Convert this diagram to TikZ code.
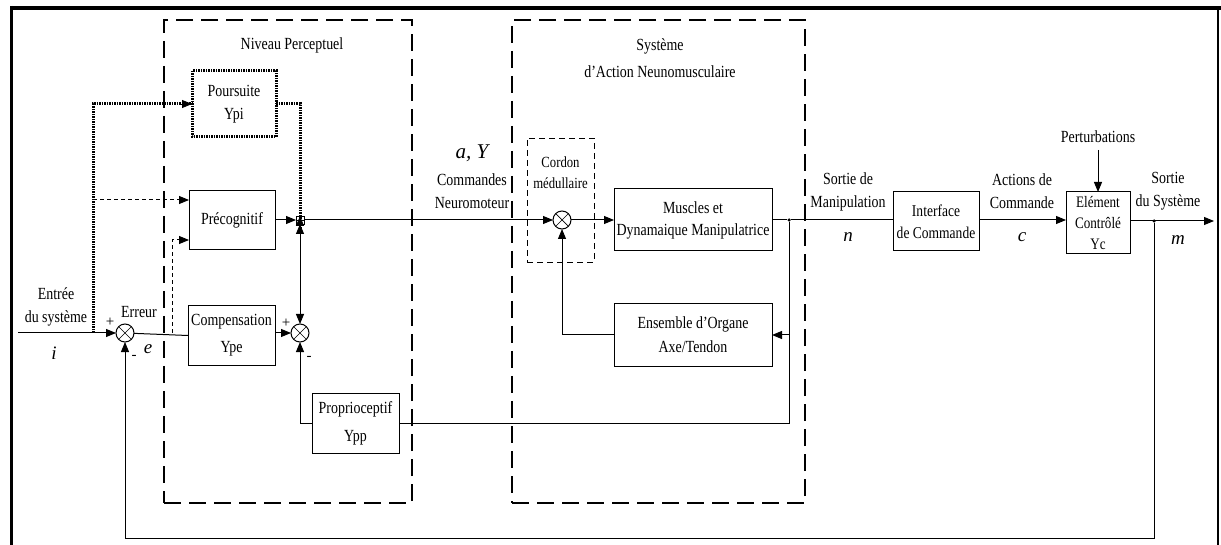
\documentclass[tikz,border=0pt]{standalone}
\usepackage{fontspec}
\setmainfont{Liberation Serif}[FakeStretch=0.82]
\newfontfamily\varfont{Liberation Serif}
\usetikzlibrary{arrows.meta}
\begin{document}
\begin{tikzpicture}[x=1pt,y=-1pt,
  every node/.style={inner sep=0pt, outer sep=0pt},
  blk/.style={draw, line width=1pt, align=center, font=\fontsize{17}{23}\selectfont},
  lbl/.style={align=center, font=\fontsize{17}{23}\selectfont},
  var/.style={font=\varfont\fontsize{19}{19}\selectfont\itshape},
  sgn/.style={font=\varfont\fontsize{15}{15}\selectfont},
  sig/.style={line width=1pt},
  tip/.style={-{Triangle[length=10pt,width=8pt]}},
  arr/.style={sig, tip},
  bigdash/.style={line width=2.6pt, dash pattern=on 17pt off 8pt},
  hatch/.style={line width=3pt, dash pattern=on 1.5pt off 1pt},
  thindash/.style={dash pattern=on 4pt off 3pt},
  sj/.style={draw, circle, line width=1pt, minimum size=18pt},
  dot/.style={circle, fill, minimum size=3.5pt},
]
\useasboundingbox (0,0) rectangle (1221,545);
% frame
\draw[line width=4pt] (10,8) -- (1221,8);
\draw[line width=3.5pt] (11.5,6) -- (11.5,545);
\draw[line width=1.5pt] (1218,8) -- (1218,545);

% big dashed containers
\node[draw, bigdash, minimum width=248pt, minimum height=483pt] (niv) at (288,261.5) {};
\node[lbl] (nivl) at (292,45) {Niveau Perceptuel};
\node[draw, bigdash, minimum width=293pt, minimum height=483pt] (sys) at (658.5,261.5) {};
\node[lbl, font=\fontsize{17}{27}\selectfont] (sysl) at (660,58.5) {Système\\d'Action Neunomusculaire};

% cordon medullaire
\node[draw, line width=0.9pt, dash pattern=on 6pt off 4pt, minimum width=67pt, minimum height=124pt] (cord) at (560.5,200) {};
\node[lbl, font=\fontsize{15.5}{21}\selectfont] (cordl) at (560.5,173) {Cordon\\médullaire};

% blocks
\node[blk, draw=none, minimum width=84pt, minimum height=66pt] (pours) at (234,104) {Poursuite\\Ypi};
\draw[hatch] (pours.north west) rectangle (pours.south east);
\node[blk, minimum width=86pt, minimum height=59pt] (precog) at (232,220) {Précognitif};
\node[blk, font=\fontsize{17}{27}\selectfont, minimum width=87pt, minimum height=59pt] (comp) at (231.5,335.5) {Compensation\\Ype};
\node[blk, font=\fontsize{17}{28}\selectfont, minimum width=87pt, minimum height=60pt] (prop) at (355.5,423) {Proprioceptif\\Ypp};
\node[blk, font=\fontsize{17}{22}\selectfont, minimum width=158pt, minimum height=62pt] (musc) at (693,220) {Muscles et\\Dynamaique Manipulatrice};
\node[blk, font=\fontsize{17}{24}\selectfont, minimum width=158pt, minimum height=62pt] (ens) at (693,335) {Ensemble d'Organe\\Axe/Tendon};
\node[blk, font=\fontsize{16.5}{22}\selectfont, minimum width=86pt, minimum height=59pt] (intf) at (936,221.5) {Interface\\de Commande};
\node[blk, font=\fontsize{16}{21}\selectfont, minimum width=64pt, minimum height=62pt] (elem) at (1098,223) {Elément\\Contrôlé\\Yc};

% summing junctions
\node[sj] (c1) at (125,333) {};
\draw[line width=0.7pt] (c1.north east) -- (c1.south west) (c1.north west) -- (c1.south east);
\node[sj] (c2) at (300,333) {};
\draw[line width=0.7pt] (c2.north east) -- (c2.south west) (c2.north west) -- (c2.south east);
\node[sj] (c3) at (562,220) {};
\draw[line width=0.7pt] (c3.north east) -- (c3.south west) (c3.north west) -- (c3.south east);
\node[draw, line width=0.9pt, minimum size=8pt] (sum) at (300,220) {};
\draw[line width=0.7pt] (sum.north) -- (sum.south) (sum.west) -- (sum.east);

% coordinates
\coordinate (inp) at (18,333);
\coordinate (hj) at (93,333);
\coordinate (hd) at (93,200);
\coordinate (ej) at (172,333);
\node[dot] (o1) at (789,220) {};
\node[dot] (o2) at (1154,221) {};
\coordinate (outp) at (1214,221);
\coordinate (pert) at (1098,150);
\coordinate (fb) at (1154,538);

% connectors
\draw[arr] (inp) -- (c1);
\draw[hatch] (hj) |- (pours.west);
\draw[tip, line width=0.8pt] ([xshift=-12pt]pours.west) -- (pours.west);
\draw[hatch] (pours.east) -| ([yshift=-12pt]sum.north);
\draw[tip, line width=0.8pt] ([yshift=-12pt]sum.north) -- (sum.north);
\draw[arr, thindash] (hd) -- (precog.west |- hd);
\draw[sig] (c1) -- (comp.west);
\draw[arr, thindash] (ej) |- (precog.west |- 0,240);
\draw[arr] (precog.east) -- (sum.west);
\draw[arr] (comp.east |- c2) -- (c2);
\draw[sig, {Triangle[length=10pt,width=8pt]}-{Triangle[length=10pt,width=8pt]}] (sum.south) -- (c2.north);
\draw[arr] (prop.west) -| (c2);
\draw[arr] (sum.east) -- (c3);
\draw[arr] (c3) -- (musc.west);
\draw[sig] (musc.east) -- (o1) -- (intf.west |- o1);
\draw[arr] (o1) |- (ens.east);
\draw[sig] (o1) |- (prop.east);
\draw[arr] (ens.west) -| (c3);
\draw[arr] (intf.east |- o1) -- (elem.west |- o1);
\draw[arr] (pert) -- (elem.north);
\draw[arr] (elem.east |- o2) -- (outp);
\draw[arr] (o2) -- (fb) -| (c1);

% labels
\node[lbl] (entree) at (56,306.5) {Entrée\\du système};
\node[var] (vi) at (54,353) {i};
\node[lbl] (err) at (139,312) {Erreur};
\node[var] (ve) at (148,349) {e};
\node[sgn] (p1) at (110,322) {+};
\node[sgn] (m1) at (134,357) {-};
\node[sgn] (p2) at (286,323) {+};
\node[sgn] (m2) at (309,358) {-};
\node[var, font=\varfont\fontsize{21}{21}\selectfont\itshape] (aY) at (472,153) {a, Y};
\node[lbl] (cmdn) at (472,191.5) {Commandes\\Neuromoteur};
\node[lbl] (sman) at (848,192) {Sortie de\\Manipulation};
\node[var] (vn) at (848,237) {n};
\node[lbl] (acts) at (1022,191.5) {Actions de\\Commande};
\node[var] (vc) at (1022,237) {c};
\node[lbl] (ssys) at (1168,191.5) {Sortie\\du Système};
\node[var] (vm) at (1178,240) {m};
\node[lbl] (pertl) at (1098,137) {Perturbations};
\end{tikzpicture}
\end{document}
